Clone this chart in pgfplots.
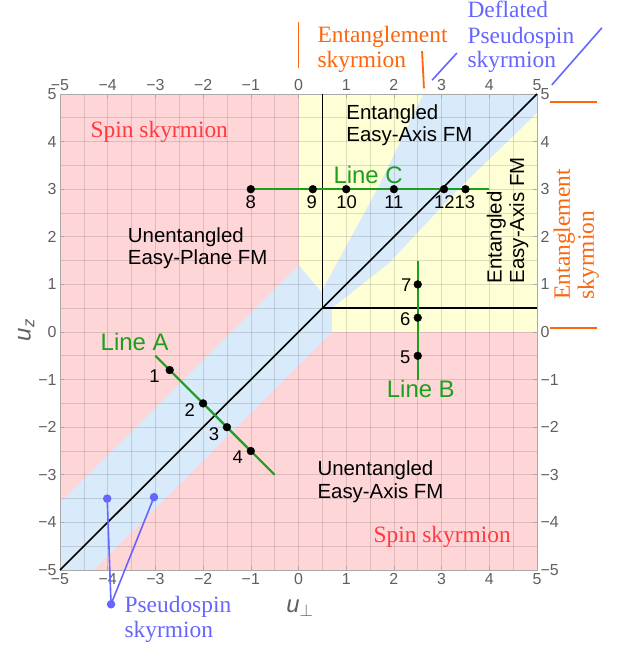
\documentclass[border=0pt]{standalone}
\usepackage{fontspec}
\setsansfont{Liberation Sans}
\newfontfamily\annfont{Liberation Serif}
\usepackage{pgfplots}
\pgfplotsset{compat=1.18}

\definecolor{spinpink}{RGB}{255,214,216}
\definecolor{entyellow}{RGB}{255,255,214}
\definecolor{pseublue}{RGB}{217,234,250}
\definecolor{linegreen}{RGB}{28,160,28}
\definecolor{annorange}{RGB}{252,102,12}
\definecolor{annblue}{RGB}{102,102,255}
\definecolor{spinred}{RGB}{255,58,64}
\definecolor{tickgray}{RGB}{95,95,95}
\definecolor{framegray}{RGB}{170,170,170}

\newcommand{\tickfont}{\sffamily\fontsize{16}{16}\selectfont}
\newcommand{\regionfont}{\sffamily\fontsize{20.5}{22}\selectfont}
\newcommand{\numfont}{\sffamily\fontsize{18.5}{20}\selectfont}
\newcommand{\linefont}{\sffamily\fontsize{24}{26}\selectfont}
\newcommand{\skfont}{\annfont\fontsize{23.5}{25}\selectfont}

\begin{document}
\begin{tikzpicture}
\begin{axis}[
  set layers,
  scale only axis, width=477bp, height=476bp,
  xmin=-5, xmax=5, ymin=-5, ymax=5,
  clip=false,
  xtick={-5,...,5}, ytick={-5,...,5},
  minor xtick={-4.5,-3.5,...,4.5}, minor ytick={-4.5,-3.5,...,4.5},
  xticklabels={−5,−4,−3,−2,−1,0,1,2,3,4,5},
  yticklabels={−5,−4,−3,−2,−1,0,1,2,3,4,5},
  tick label style={font=\tickfont, text=tickgray},
  grid=both,
  major grid style={black, opacity=0.13, line width=0.6bp},
  minor grid style={black, opacity=0.13, line width=0.6bp},
  axis line style={framegray, line width=0.8bp},
  major tick style={framegray, line width=0.6bp},
  major tick length=4bp, minor tick length=0pt,
]
% phase regions
\addplot[fill=spinpink, draw=none, on layer=axis background]
  coordinates {(-5,-5) (5,-5) (5,5) (-5,5)} -- cycle;
\addplot[fill=entyellow, draw=none, on layer=axis background]
  coordinates {(0,0) (5,0) (5,5) (0,5)} -- cycle;
\addplot[fill=pseublue, draw=none, on layer=axis background]
  coordinates {(-5,-5) (-4.3,-5) (0.7,0) (0.7,0.5) (1.9,1.45) (3.35,3)
               (5,4.6) (5,5) (2.62,5) (1.65,3) (0.5,0.88) (0.5,0.82)
               (0,1.41) (-5,-3.59)} -- cycle;

% phase boundaries
\addplot[black, line width=1.6bp] coordinates {(-5,-5) (5,5)};
\addplot[black, line width=1.6bp] coordinates {(0.5,5) (0.5,0.5) (5,0.5)};

% cuts A, B, C
\addplot[linegreen, line width=2.2bp] coordinates {(-3,-0.5) (-0.5,-3)};
\addplot[linegreen, line width=2.2bp] coordinates {(2.5,-1) (2.5,1.5)};
\addplot[linegreen, line width=2.2bp] coordinates {(-1,3) (4,3)};
\addplot[only marks, mark=*, mark size=3.9bp, black]
  coordinates {(-2.7,-0.8) (-2,-1.5) (-1.5,-2) (-1,-2.5)
               (2.5,-0.5) (2.5,0.3) (2.5,1)
               (-1,3) (0.3,3) (1,3) (2,3) (3.05,3) (3.5,3)};

% point numbers
\node[anchor=base east, font=\numfont] at (axis cs:-2.84,-1.07) {1};
\node[anchor=base east, font=\numfont] at (axis cs:-2.10,-1.78) {2};
\node[anchor=base east, font=\numfont] at (axis cs:-1.59,-2.27) {3};
\node[anchor=base east, font=\numfont] at (axis cs:-1.09,-2.76) {4};
\node[anchor=base east, font=\numfont] at (axis cs:2.42,-0.67) {5};
\node[anchor=base east, font=\numfont] at (axis cs:2.42,0.13) {6};
\node[anchor=base east, font=\numfont] at (axis cs:2.44,0.85) {7};
\node[anchor=base, font=\numfont] at (axis cs:-1,2.60) {8};
\node[anchor=base, font=\numfont] at (axis cs:0.28,2.60) {9};
\node[anchor=base, font=\numfont] at (axis cs:1.01,2.60) {10};
\node[anchor=base, font=\numfont] at (axis cs:2.0,2.60) {11};
\node[anchor=base, font=\numfont] at (axis cs:3.06,2.60) {12};
\node[anchor=base, font=\numfont] at (axis cs:3.49,2.60) {13};

\node[anchor=base west, font=\linefont, text=linegreen] at (axis cs:-4.22,-0.39) {Line A};
\node[anchor=base west, font=\linefont, text=linegreen] at (axis cs:1.78,-1.38) {Line B};
\node[anchor=base west, font=\linefont, text=linegreen] at (axis cs:0.66,3.13) {Line C};

% phase names
\node[anchor=base west, font=\regionfont] at (axis cs:-3.65,1.88) {Unentangled};
\node[anchor=base west, font=\regionfont] at (axis cs:-3.65,1.41) {Easy-Plane FM};
\node[anchor=base west, font=\regionfont] at (axis cs:0.93,4.47) {Entangled};
\node[anchor=base west, font=\regionfont] at (axis cs:0.93,4.01) {Easy-Axis FM};
\node[anchor=base west, font=\regionfont] at (axis cs:0.325,-3.02) {Unentangled};
\node[anchor=base west, font=\regionfont] at (axis cs:0.325,-3.49) {Easy-Axis FM};
\node[anchor=base west, rotate=90, font=\regionfont] at (axis cs:4.26,0.95) {Entangled};
\node[anchor=base west, rotate=90, font=\regionfont] at (axis cs:4.73,0.95) {Easy-Axis FM};

% skyrmion types
\node[anchor=base west, font=\skfont, text=spinred] at (axis cs:-4.43,4.09) {Spin skyrmion};
\node[anchor=base west, font=\skfont, text=spinred] at (axis cs:1.50,-4.43) {Spin skyrmion};

\addplot[annblue, line width=1.6bp, mark=*, mark size=3.4bp]
  coordinates {(-4.01,-3.5) (-3.93,-5.72) (-3.03,-3.47)};
\node[anchor=base west, font=\skfont, text=annblue] at (axis cs:-3.72,-5.90) {Pseudospin};
\node[anchor=base west, font=\skfont, text=annblue] at (axis cs:-3.72,-6.41) {skyrmion};

\addplot[annorange, line width=1.8bp] coordinates {(0,5.55) (0,6.51)};
\addplot[annorange, line width=1.8bp] coordinates {(2.59,5.9) (2.63,5.12)};
\node[anchor=base west, font=\skfont, text=annorange] at (axis cs:0.325,6.09) {Entanglement};
\node[anchor=base west, font=\skfont, text=annorange] at (axis cs:0.325,5.55) {skyrmion};

\addplot[annblue, line width=1.6bp] coordinates {(2.80,5.29) (3.32,5.86)};
\addplot[annblue, line width=1.6bp] coordinates {(5.31,5.19) (6.36,6.39)};
\node[anchor=base west, font=\skfont, text=annblue] at (axis cs:3.47,6.60) {Deflated};
\node[anchor=base west, font=\skfont, text=annblue] at (axis cs:3.47,6.06) {Pseudospin};
\node[anchor=base west, font=\skfont, text=annblue] at (axis cs:3.47,5.55) {skyrmion};

\addplot[annorange, line width=1.8bp] coordinates {(5.27,4.84) (6.26,4.84)};
\addplot[annorange, line width=1.8bp] coordinates {(5.27,0.08) (6.26,0.08)};
\node[anchor=base west, rotate=90, font=\skfont, text=annorange] at (axis cs:5.69,0.61) {Entanglement};
\node[anchor=base west, rotate=90, font=\skfont, text=annorange] at (axis cs:6.19,0.61) {skyrmion};

% axis names
\node[font=\sffamily\fontsize{24}{24}\selectfont, text=tickgray] at (axis cs:0.03,-5.80) {\itshape u\textsubscript{$\perp$}};
\node[rotate=90, font=\sffamily\fontsize{24}{24}\selectfont, text=tickgray] at (axis cs:-5.71,0.04) {\itshape u\textsubscript{z}};
\end{axis}

% tick labels along the top and right edges
\begin{axis}[
  scale only axis, width=477bp, height=476bp,
  xmin=-5, xmax=5, ymin=-5, ymax=5,
  xtick={-5,...,5}, ytick={-5,...,5},
  xticklabels={−5,−4,−3,−2,−1,0,1,2,3,4,5},
  yticklabels={−5,−4,−3,−2,−1,0,1,2,3,4,5},
  xticklabel pos=right, yticklabel pos=right,
  tick label style={font=\tickfont, text=tickgray},
  axis line style={draw=none},
  major tick style={draw=none},
]
\end{axis}
\pgfresetboundingbox
\path (-60bp,-78bp) rectangle (566bp,570bp);
\end{tikzpicture}
\end{document}
